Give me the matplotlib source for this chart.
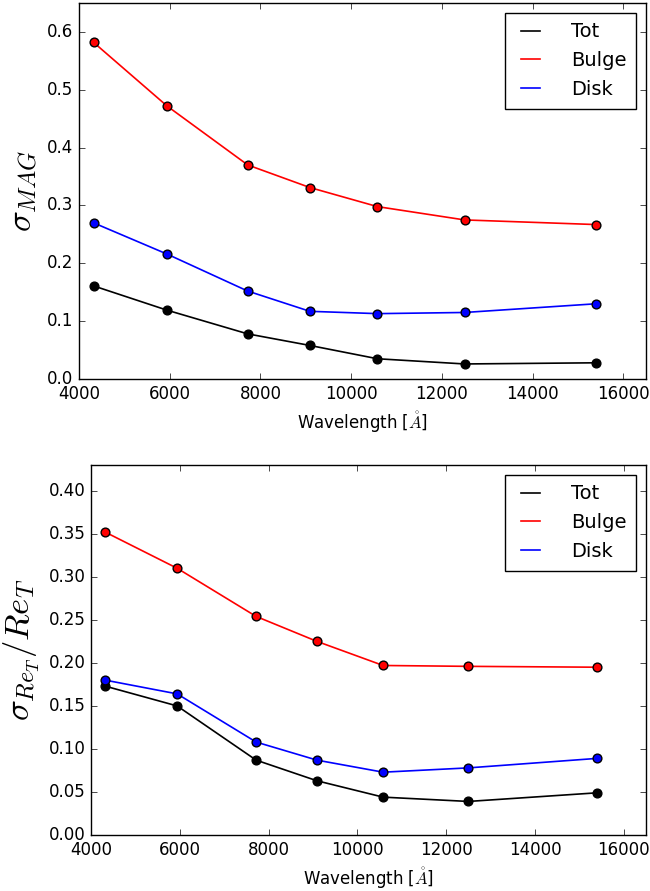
import matplotlib
matplotlib.use('Agg')
import matplotlib.pyplot as plt

plt.style.use('classic')

# wavelengths of the bands [A]
wave = [4320, 5940, 7720, 9090, 10580, 12500, 15390]

# magnitude errors
mag_tot = [0.161, 0.119, 0.078, 0.058, 0.035, 0.026, 0.028]
mag_bulge = [0.582, 0.472, 0.370, 0.331, 0.298, 0.275, 0.267]
mag_disk = [0.270, 0.216, 0.152, 0.117, 0.113, 0.115, 0.130]

# relative radius errors
re_tot = [0.173, 0.150, 0.087, 0.063, 0.044, 0.039, 0.049]
re_bulge = [0.352, 0.310, 0.254, 0.225, 0.197, 0.196, 0.195]
re_disk = [0.180, 0.164, 0.108, 0.087, 0.073, 0.078, 0.089]

series_names = ['Tot', 'Bulge', 'Disk']
series_colors = ['k', 'r', 'b']


def panel(ax, ys, ylabel, ymax, yticks):
    for y, name, c in zip(ys, series_names, series_colors):
        ax.plot(wave, y, '-', color=c, lw=1.2, label=name)
        ax.plot(wave, y, 'o', color=c, mec='k', mew=1, ms=6.3)
    ax.set_xlim(4000, 16500)
    ax.set_ylim(0, ymax)
    ax.set_xticks(range(4000, 16001, 2000))
    ax.set_yticks(yticks)
    ax.tick_params(labelsize=12)
    ax.set_xlabel(r'Wavelength [$\mathring{A}$]', fontsize=12)
    ax.set_ylabel(ylabel, fontsize=25)
    ax.legend(loc='upper right', fontsize=14, frameon=True, fancybox=False,
              handlelength=1.6, handletextpad=1.3, borderpad=0.5,
              labelspacing=0.5, borderaxespad=0.5)


fig = plt.figure(figsize=(6.5, 8.91), dpi=100, facecolor='white')
ax1 = fig.add_axes([79/650, 1-379/891, 567/650, 376/891])
ax2 = fig.add_axes([91/650, 1-835/891, 555/650, 370/891])

panel(ax1, [mag_tot, mag_bulge, mag_disk], r'$\sigma_{MAG}$', 0.65,
      [0.0, 0.1, 0.2, 0.3, 0.4, 0.5, 0.6])
ax1.yaxis.set_major_formatter(matplotlib.ticker.FormatStrFormatter('%.1f'))
panel(ax2, [re_tot, re_bulge, re_disk], r'$\sigma_{Re_T}/Re_T$', 0.43,
      [0.0, 0.05, 0.10, 0.15, 0.20, 0.25, 0.30, 0.35, 0.40])
ax2.yaxis.set_major_formatter(matplotlib.ticker.FormatStrFormatter('%.2f'))

fig.savefig('out.png', dpi=100, facecolor='white')
